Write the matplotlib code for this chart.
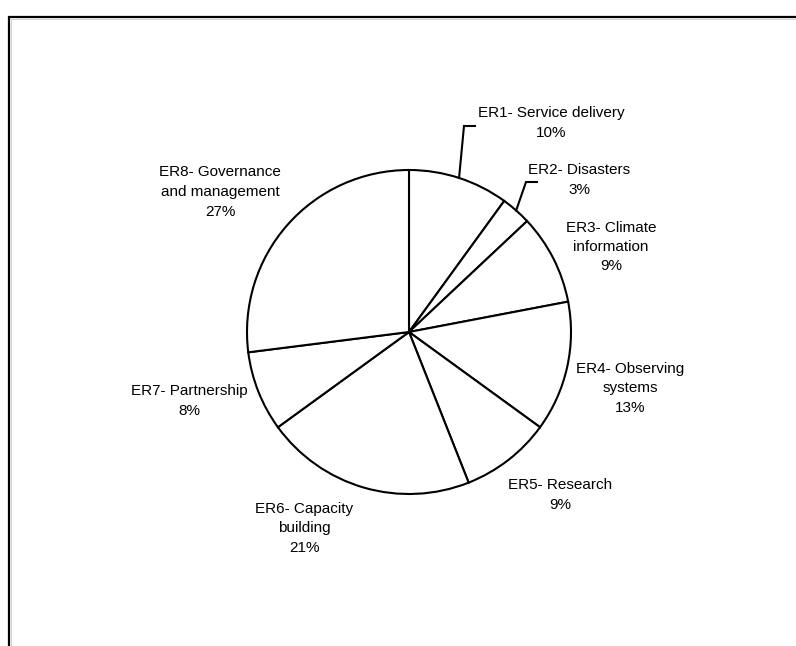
import numpy as np
import matplotlib.pyplot as plt
from matplotlib.lines import Line2D

plt.rcParams['font.family'] = ['Liberation Sans', 'DejaVu Sans']

names = ['ER1- Service delivery', 'ER2- Disasters', 'ER3- Climate\ninformation',
         'ER4- Observing\nsystems', 'ER5- Research', 'ER6- Capacity\nbuilding',
         'ER7- Partnership', 'ER8- Governance\nand management']
shares = [10, 3, 9, 13, 9, 21, 8, 27]

# where each label block sits (pixel units, y up)
label_xy = [(551, 523), (579, 466), (611, 399), (630, 258),
            (560, 151), (304, 118), (189, 245), (220, 454)]
# elbow of the leader line for the two thin slices at the top
leader_end = {0: (464, 520), 1: (526, 464)}
leader_tail = {0: 475, 1: 537}

W, H = 796, 646
cx, cy, R = 409, 314, 162

fig = plt.figure(figsize=(W / 100, H / 100), dpi=100)
ax = fig.add_axes([0, 0, 1, 1])

wedges, _ = ax.pie(shares, startangle=90, counterclock=False, center=(cx, cy),
                   radius=R, colors=['white'] * len(shares),
                   wedgeprops=dict(edgecolor='black', linewidth=1.5))
ax.set_xlim(0, W)
ax.set_ylim(0, H)
ax.set_aspect('equal')
ax.axis('off')

for i, (name, val) in enumerate(zip(names, shares)):
    x, y = label_xy[i]
    ax.text(x, y, f'{name}\n{val}%', ha='center', va='center', fontsize=11,
            linespacing=1.5, color='black')
    if i in leader_end:
        w = wedges[i]
        mid = np.deg2rad((w.theta1 + w.theta2) / 2)
        sx, sy = cx + R * np.cos(mid), cy + R * np.sin(mid)
        ex, ey = leader_end[i]
        ax.plot([sx, ex, leader_tail[i]], [sy, ey, ey], color='black', lw=1.5,
                solid_joinstyle='miter')

# outer frame (open at right and bottom)
fig.add_artist(Line2D([10.5 / W, 10.5 / W, 1], [0, 1 - 18.8 / H, 1 - 18.8 / H],
                      transform=fig.transFigure, color='#d4d4d4', lw=0.7))
fig.add_artist(Line2D([9 / W, 9 / W, 1], [0, 1 - 17 / H, 1 - 17 / H],
                      transform=fig.transFigure, color='black', lw=1.6,
                      solid_joinstyle='miter'))

fig.savefig('out.png', dpi=100, facecolor='white')
